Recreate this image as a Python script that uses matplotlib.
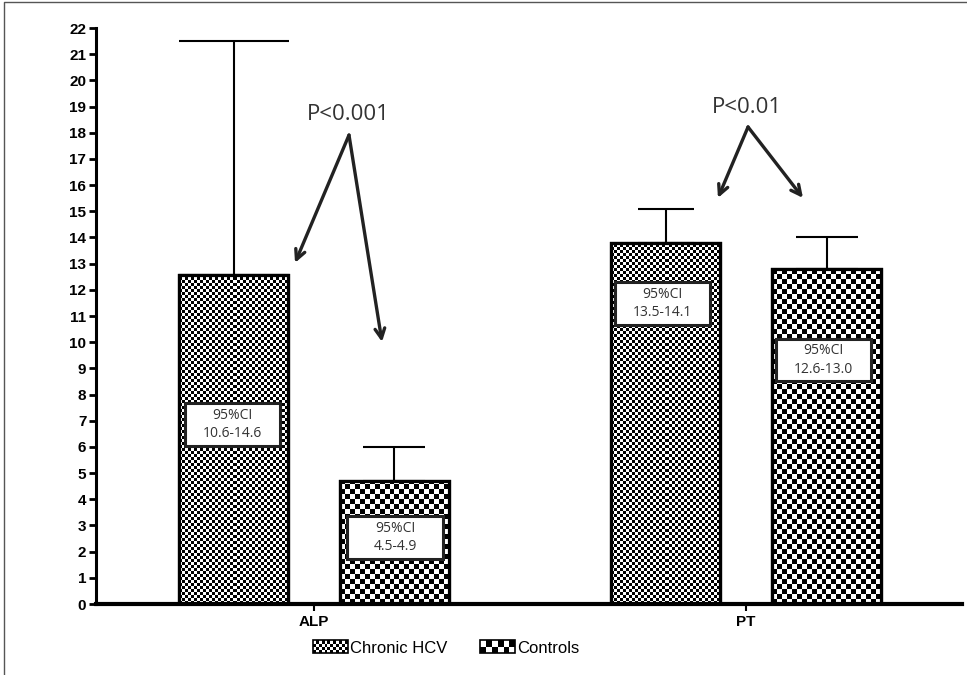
import numpy as np
import matplotlib
matplotlib.use("Agg")
import matplotlib.pyplot as plt
from matplotlib.patches import Rectangle
from matplotlib.legend_handler import HandlerBase
from matplotlib.lines import Line2D

# data
groups = ["ALP", "PT"]
hcv_mean = [12.55, 13.8]
hcv_upper = [21.5, 15.1]
ctrl_mean = [4.68, 12.78]
ctrl_upper = [6.0, 14.0]
hcv_ci = ["95%CI\n10.6-14.6", "95%CI\n13.5-14.1"]
ctrl_ci = ["95%CI\n4.5-4.9", "95%CI\n12.6-13.0"]
pvals = ["P<0.001", "P<0.01"]

W, H, DPI = 967, 675, 100
fig = plt.figure(figsize=(W / DPI, H / DPI), dpi=DPI)
ax = fig.add_axes([96 / W, 71 / H, (962 - 96) / W, (604 - 28) / H])

centers = np.array([2.0, 5.965])
off = 0.737
x_hcv = centers - off
x_ctrl = centers + off
bw = 1.0


def checker(bar, cell_px, ax):
    # fill a bar with a black/white checker texture, clipped to the bar
    x0, y0 = bar.get_x(), bar.get_y()
    x1, y1 = x0 + bar.get_width(), y0 + bar.get_height()
    p0 = ax.transData.transform((x0, y0))
    p1 = ax.transData.transform((x1, y1))
    nx = max(1, int(round((p1[0] - p0[0]) / cell_px)))
    ny = max(1, int(round((p1[1] - p0[1]) / cell_px)))
    img = (np.add.outer(np.arange(ny), np.arange(nx)) % 2).astype(float)
    im = ax.imshow(img, cmap="gray", extent=(x0, x1, y0, y0 + ny * cell_px * (y1 - y0) / (p1[1] - p0[1])),
                   origin="lower", interpolation="nearest", aspect="auto", zorder=2)
    im.set_clip_path(bar)


ax.set_xlim(0, 866 / 109)
ax.set_ylim(0, 22)

# error bars (upper only)
err_kw = dict(fmt="none", ecolor="black", elinewidth=1.5, capthick=1.5, zorder=1)
ax.errorbar([x_hcv[0]], [hcv_mean[0]], yerr=[[0], [hcv_upper[0] - hcv_mean[0]]], capsize=39.6, **err_kw)
ax.errorbar([x_hcv[1]], [hcv_mean[1]], yerr=[[0], [hcv_upper[1] - hcv_mean[1]]], capsize=20, **err_kw)
ax.errorbar(x_ctrl, ctrl_mean, yerr=[[0, 0], np.array(ctrl_upper) - np.array(ctrl_mean)], capsize=22, **err_kw)

bars_h = ax.bar(x_hcv, hcv_mean, width=bw, facecolor="white", edgecolor="black", linewidth=2.3, zorder=1.5)
bars_c = ax.bar(x_ctrl, ctrl_mean, width=bw, facecolor="white", edgecolor="black", linewidth=2.3, zorder=1.5)
fig.canvas.draw()
for b in bars_h:
    checker(b, 3, ax)
for b in bars_c:
    checker(b, 5, ax)
# outlines on top
ax.bar(x_hcv, hcv_mean, width=bw, fill=False, edgecolor="black", linewidth=2.3, zorder=3)
ax.bar(x_ctrl, ctrl_mean, width=bw, fill=False, edgecolor="black", linewidth=2.3, zorder=3)

# CI boxes
bx_w, bx_h = 0.872, 1.64
ci_pos = [(1.248, 6.86, hcv_ci[0]), (2.743, 2.54, ctrl_ci[0]),
          (5.197, 11.48, hcv_ci[1]), (6.674, 9.32, ctrl_ci[1])]
for cx, cy, txt in ci_pos:
    ax.add_patch(Rectangle((cx - bx_w / 2, cy - bx_h / 2), bx_w, bx_h, facecolor="white",
                           edgecolor="#222222", linewidth=2.2, zorder=4))
    ax.text(cx, cy, txt, ha="center", va="center", fontsize=10, family="Open Sans",
            color="#333333", linespacing=1.3, zorder=5)

# p-value arrows
arrow_kw = dict(arrowstyle="->,head_length=0.7,head_width=0.35", lw=2.4, color="#222222",
                shrinkA=0, shrinkB=0)
ax.text(2.312, 18.68, pvals[0], ha="center", va="center", fontsize=16, family="Open Sans", color="#333333")
for tip in [(1.826, 13.03), (2.624, 10.01)]:
    ax.annotate("", xy=tip, xytext=(2.321, 17.91), arrowprops=arrow_kw, zorder=6)
ax.text(5.972, 18.98, pvals[1], ha="center", va="center", fontsize=16, family="Open Sans", color="#333333")
for tip in [(5.706, 15.51), (6.486, 15.51)]:
    ax.annotate("", xy=tip, xytext=(5.982, 18.22), arrowprops=arrow_kw, zorder=6)

# axes styling
for s in ["top", "right"]:
    ax.spines[s].set_visible(False)
ax.spines["left"].set_linewidth(2.2)
ax.spines["bottom"].set_linewidth(3)
ax.set_yticks(range(0, 23))
ax.set_xticks(centers)
ax.set_xticklabels(groups)
ax.tick_params(axis="y", length=5, width=2, pad=2)
ax.tick_params(axis="x", length=5, width=1.5, pad=3)
for lab in ax.get_yticklabels() + ax.get_xticklabels():
    lab.set_fontweight("bold")
    lab.set_family("Liberation Sans")
    lab.set_fontsize(11)


class CheckerHandler(HandlerBase):
    def __init__(self, nx, ny):
        super().__init__()
        self.nx, self.ny = nx, ny

    def create_artists(self, legend, orig_handle, xdescent, ydescent, width, height, fontsize, trans):
        x0, y0 = -xdescent, -ydescent
        arts = [Rectangle((x0, y0), width, height, facecolor="white", edgecolor="black", lw=1.2, transform=trans)]
        cw, ch = width / self.nx, height / self.ny
        for i in range(self.nx):
            for j in range(self.ny):
                if (i + j) % 2 == 0:
                    arts.append(Rectangle((x0 + i * cw, y0 + j * ch), cw, ch, facecolor="black",
                                          lw=0, transform=trans))
        return arts


h1 = Rectangle((0, 0), 1, 1)
h2 = Rectangle((0, 0), 1, 1)
fig.legend([h1, h2], ["Chronic HCV", "Controls"], loc="center", bbox_to_anchor=(446 / W, 1 - 648 / H),
           ncol=2, frameon=False, handlelength=2.1, handleheight=0.8, handletextpad=0.1, columnspacing=2.0,
           prop={"family": "Liberation Sans", "size": 12},
           handler_map={h1: CheckerHandler(12, 4), h2: CheckerHandler(6, 2)})

# thin frame lines on top and left of the picture
fig.add_artist(Line2D([4 / W, 4 / W, 1], [0, 1 - 2 / H, 1 - 2 / H], transform=fig.transFigure,
                      color="#555555", lw=1))

fig.savefig("out.png", dpi=DPI)
